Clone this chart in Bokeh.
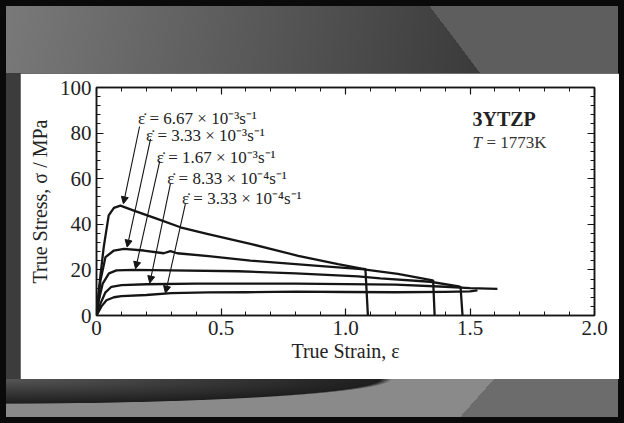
from bokeh.plotting import figure
from bokeh.models import (Range1d, FixedTicker, LinearAxis, CustomJSTickFormatter,
                          ColumnDataSource, Arrow, NormalHead, Label, GlobalInlineStyleSheet)
from bokeh.layouts import column
from bokeh.core.properties import value
from bokeh.embed import file_html
from bokeh.resources import INLINE

# ---- data ----
strain_a = [0, 0.01, 0.029, 0.049, 0.07, 0.096, 0.15, 0.244, 0.337, 0.444, 0.618, 0.81, 0.97, 1.065, 1.08, 1.09]
stress_a = [0, 12, 30, 43.9, 47.2, 48.2, 46, 42.4, 38.7, 35.8, 31.4, 26.2, 22.5, 20.6, 20.3, 0]

strain_b = [0, 0.016, 0.036, 0.07, 0.11, 0.19, 0.27, 0.297, 0.324, 0.45, 0.618, 0.89, 1.065, 1.21, 1.345, 1.352, 1.358]
stress_b = [0, 15.4, 25.6, 28.5, 29.2, 28.5, 27.3, 28.2, 27.3, 26, 24.1, 21.8, 20.3, 18.3, 15.5, 15.3, 0]

strain_c = [0, 0.01, 0.025, 0.05, 0.08, 0.15, 0.3, 0.57, 0.8, 1.05, 1.14, 1.34, 1.455, 1.462, 1.47]
stress_c = [0, 7, 14, 18.5, 19.8, 20, 19.8, 19.4, 18.5, 17.2, 16.3, 14.8, 12.8, 12.5, 0]

strain_d = [0, 0.015, 0.035, 0.06, 0.1, 0.2, 0.4, 0.6, 0.8, 1.0, 1.2, 1.4, 1.5, 1.61]
stress_d = [0, 5, 10, 12.6, 13.3, 13.7, 14, 14, 14, 13.8, 13.5, 12.6, 12, 11.7]

strain_e = [0, 0.02, 0.04, 0.07, 0.1, 0.2, 0.3, 0.45, 0.6, 0.8, 1.0, 1.2, 1.4, 1.5, 1.53]
stress_e = [0, 4, 6.7, 8, 8.5, 9, 9.8, 10.1, 10.2, 10.5, 10.3, 10.2, 10.4, 10.6, 11]

rate_labels = ["ε̇ = 6.67 × 10⁻³s⁻¹", "ε̇ = 3.33 × 10⁻³s⁻¹", "ε̇ = 1.67 × 10⁻³s⁻¹",
               "ε̇ = 8.33 × 10⁻⁴s⁻¹", "ε̇ = 3.33 × 10⁻⁴s⁻¹"]
label_x = [0.167, 0.199, 0.242, 0.284, 0.343]
label_y = [86.3, 78.9, 69.4, 60, 51.2]

arrow_x0 = [0.173, 0.217, 0.254, 0.297, 0.357]
arrow_y0 = [82.9, 77.5, 67.7, 57.8, 49]
arrow_x1 = [0.108, 0.123, 0.157, 0.214, 0.277]
arrow_y1 = [49, 30, 20.5, 14.2, 9.8]

x_ticks = [0, 0.5, 1.0, 1.5, 2.0]
x_tick_labels = ["0", "0.5", "1.0", "1.5", "2.0"]
x_minor = [i / 10 for i in range(21)]
y_ticks = [0, 20, 40, 60, 80, 100]
y_minor = list(range(0, 101, 4))

FONT = "Liberation Serif"
INK = "#151515"

p = figure(frame_width=498, frame_height=228, output_backend="svg", toolbar_location=None,
           x_range=Range1d(0, 2.0), y_range=Range1d(0, 100),
           min_border_left=76, min_border_right=25, min_border_top=14, min_border_bottom=64,
           background_fill_color="white", border_fill_color="white",
           outline_line_color=INK, outline_line_width=1.5)
p.margin = (73, 5, 44, 20)
p.grid.visible = False

xt = FixedTicker(ticks=x_ticks, minor_ticks=x_minor)
yt = FixedTicker(ticks=y_ticks, minor_ticks=y_minor)
blank = CustomJSTickFormatter(code="return ''")

bottom_ax = p.below[0]
left_ax = p.left[0]
bottom_ax.ticker = xt
bottom_ax.major_label_overrides = {t: s for t, s in zip(x_ticks, x_tick_labels)}
bottom_ax.axis_label = "True Strain, ε"
left_ax.ticker = yt
left_ax.axis_label = "True Stress, σ / MPa"

top_ax = LinearAxis(ticker=xt, formatter=blank)
right_ax = LinearAxis(ticker=yt, formatter=blank)
p.add_layout(top_ax, "above")
p.add_layout(right_ax, "right")

for ax in [bottom_ax, left_ax, top_ax, right_ax]:
    ax.major_tick_in = 7
    ax.major_tick_out = 0
    ax.minor_tick_in = 4
    ax.minor_tick_out = 0
    ax.axis_line_color = INK
    ax.axis_line_width = 1.5
    ax.major_tick_line_color = INK
    ax.minor_tick_line_color = INK
    ax.major_tick_line_width = 1.2
    ax.major_label_text_font = FONT
    ax.major_label_text_font_size = "21px"
    ax.major_label_text_color = "#222222"
    ax.axis_label_text_font = FONT
    ax.axis_label_text_font_size = "20px"
    ax.axis_label_text_font_style = "normal"
    ax.axis_label_text_color = "#222222"

bottom_ax.major_label_standoff = 5
bottom_ax.axis_label_standoff = 2
left_ax.major_label_standoff = 5
left_ax.axis_label_standoff = 6
top_ax.major_label_standoff = 0
right_ax.major_label_standoff = 0

for xs, ys in [(strain_a, stress_a), (strain_b, stress_b), (strain_c, stress_c),
               (strain_d, stress_d), (strain_e, stress_e)]:
    p.line(xs, ys, line_color=INK, line_width=2.3, line_join="round")

asrc = ColumnDataSource(dict(x0=arrow_x0, y0=arrow_y0, x1=arrow_x1, y1=arrow_y1))
p.add_layout(Arrow(x_start="x0", y_start="y0", x_end="x1", y_end="y1", source=asrc,
                   line_color=INK, line_width=1.1,
                   end=NormalHead(size=7, fill_color=INK, line_color=INK, line_width=1)))

lsrc = ColumnDataSource(dict(x=label_x, y=label_y, t=rate_labels))
p.text(x="x", y="y", text="t", source=lsrc, text_font=value(FONT), text_font_size="17px",
       text_align="left", text_baseline="middle", text_color="#222222")

p.add_layout(Label(x=1.51, y=86, text="3YTZP", text_font=FONT, text_font_size="20px",
                   text_font_style="bold", text_baseline="middle", text_color="#222222"))
p.add_layout(Label(x=1.51, y=76, text="T", text_font=FONT, text_font_size="17px",
                   text_font_style="italic", text_baseline="middle", text_color="#333333"))
p.add_layout(Label(x=1.51, y=76, x_offset=14, text="= 1773K", text_font=FONT, text_font_size="17px",
                   text_baseline="middle", text_color="#333333"))

bg = ("linear-gradient(53deg, rgba(0,0,0,0) 70.7%, #5e5e5e 70.7%) left top / 100% 73px no-repeat, "
      "linear-gradient(100deg, #7a7a7a 0%, #3a3a3a 78%) left top / 100% 73px no-repeat, "
      "radial-gradient(ellipse 392px 25px at 0 0, #565656 0%, #1e1e1e 97%, rgba(0,0,0,0) 100%) left bottom / 100% 44px no-repeat, "
      "linear-gradient(131.6deg, rgba(0,0,0,0) 74.5%, #6c6c6c 74.5%) left bottom / 100% 44px no-repeat, "
      "linear-gradient(#3c3c3c, #3c3c3c) left 73px / 100% 306px no-repeat, "
      "#8a8a8a")

layout = column(p, width=624, height=423,
                styles={"background": bg, "box-shadow": "inset 0 0 0 6px #0a0a0a"},
                stylesheets=[GlobalInlineStyleSheet(
                    css="html, body { margin: 0; padding: 0; background: #0a0a0a; overflow: hidden; }")])

open("out.html", "w").write(file_html(layout, INLINE))
